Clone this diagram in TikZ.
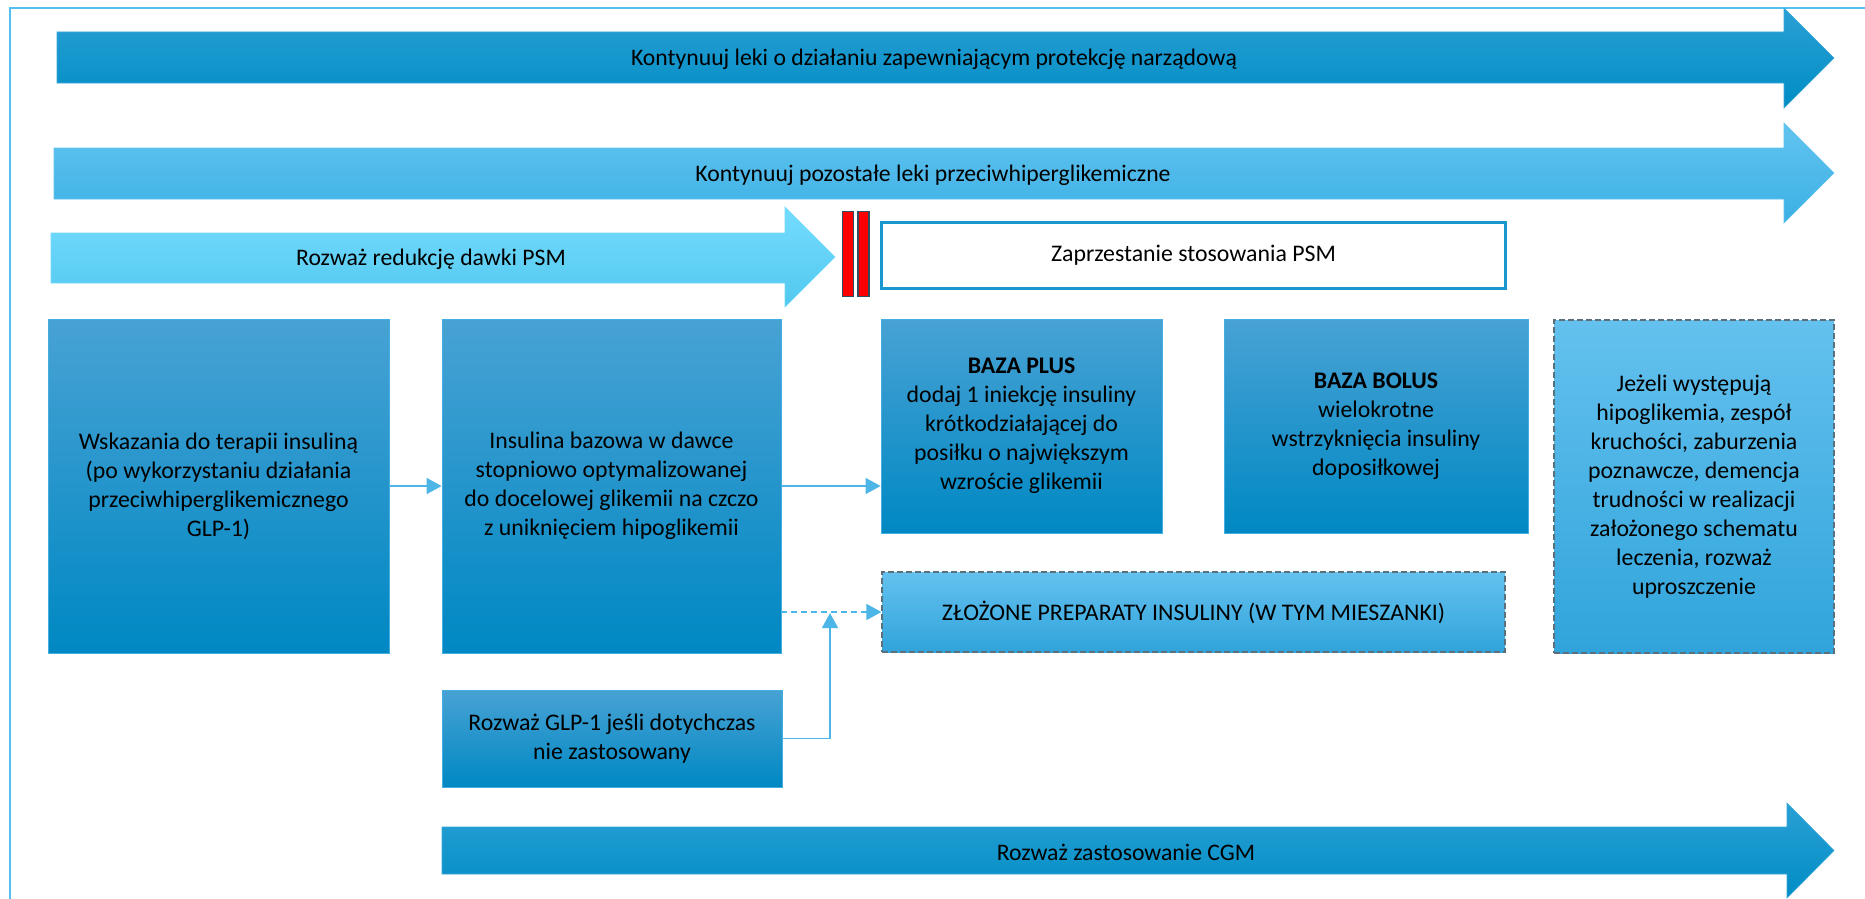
\documentclass[tikz,border=0pt]{standalone}
\usepackage{fontspec}
\setmainfont{Carlito}
\usetikzlibrary{arrows.meta}
\definecolor{framec}{HTML}{55C0F0}
\definecolor{connc}{HTML}{4DB6E6}
\definecolor{dashc}{HTML}{5C707C}
\definecolor{stopc}{HTML}{1898CF}
\definecolor{barc}{HTML}{2E4F5F}
\definecolor{bxT}{HTML}{48A2D4}
\definecolor{bxM}{HTML}{0A97D0}
\definecolor{bxB}{HTML}{0088C3}
\definecolor{bxE}{HTML}{45AEE0}
\definecolor{dbT}{HTML}{64C1EE}
\definecolor{dbM}{HTML}{42B6EE}
\definecolor{dbB}{HTML}{30A4DB}
\definecolor{daT}{HTML}{2AA0D5}
\definecolor{daM}{HTML}{0098CE}
\definecolor{daB}{HTML}{008DC4}
\definecolor{daE}{HTML}{3AA8DA}
\definecolor{maT}{HTML}{62C4F0}
\definecolor{maM}{HTML}{48BCEE}
\definecolor{maB}{HTML}{3BB0E4}
\definecolor{laT}{HTML}{74DCFF}
\definecolor{laM}{HTML}{66D6FF}
\definecolor{laB}{HTML}{52C8EE}
\tikzset{
  x=1pt, y=-1pt,
  boxtxt/.style={font=\fontsize{23.8}{29}\selectfont, align=center, text=black},
  bluebox/.style={boxtxt, rectangle, draw=bxE, line width=0.8pt,
    top color=bxT, middle color=bxM, bottom color=bxB, inner sep=0pt},
  dashbox/.style={boxtxt, rectangle, draw=dashc, line width=1.2pt, dash pattern=on 6pt off 3pt,
    top color=dbT, middle color=dbM, bottom color=dbB, inner sep=0pt},
  stopbox/.style={boxtxt, rectangle, draw=stopc, line width=2.5pt, fill=white, inner sep=0pt},
  redbar/.style={rectangle, fill=red, draw=barc, line width=1.6pt, inner sep=0pt, minimum width=11, minimum height=85},
  conn/.style={draw=connc, line width=1.3pt, -{Triangle[length=15pt,width=16pt]}},
  dconn/.style={conn, dash pattern=on 6pt off 4pt},
  arrtxt/.style={font=\fontsize{23.7}{28}\selectfont, text=black, inner sep=0pt},
  darkarrow/.style={top color=daT, middle color=daM, bottom color=daB, draw=daE, line width=0.6pt},
  midarrow/.style={top color=maT, middle color=maM, bottom color=maB, draw=maT, line width=0.6pt},
  lightarrow/.style={top color=laT, middle color=laM, bottom color=laB, draw=laT, line width=0.6pt},
}
\newcommand\fatarrow[8]{% style, x1, xh, xt, shafttop, shaftbot, headtop, headbot
  \path[#1] (#2,#5) -- (#3,#5) -- (#3,#7) -- (#4,{(#7+#8)/2}) -- (#3,#8) -- (#3,#6) -- (#2,#6) -- cycle;}
\begin{document}
\begin{tikzpicture}
\clip (0,0) rectangle (1865,899);
\path[fill=white] (0,0) rectangle (1865,899);
\draw[framec, line width=2.2pt] (10,8) rectangle (1900,950);

% big arrows
\fatarrow{darkarrow}{57}{1784}{1834}{32}{83}{8}{108}
\node[arrtxt] (t1) at (934,59) {Kontynuuj leki o działaniu zapewniającym protekcję narządową};
\fatarrow{midarrow}{54}{1784}{1834}{148}{199}{123}{223}
\node[arrtxt] (t2) at (933,175) {Kontynuuj pozostałe leki przeciwhiperglikemiczne};
\fatarrow{lightarrow}{51}{785}{835}{233}{283}{207}{307}
\node[arrtxt] (t3) at (431,259) {Rozważ redukcję dawki PSM};
\fatarrow{darkarrow}{442}{1787}{1834}{827}{874}{803}{898}
\node[arrtxt] (t4) at (1126,852) {Rozważ zastosowanie CGM};

% stop bars
\node[redbar] (r1) at (848,254) {};
\node[redbar] (r2) at (863.5,254) {};
\node[stopbox, minimum width=624, minimum height=66] (stop) at (1193.5,255.5) {Zaprzestanie stosowania PSM};

% boxes
\node[bluebox, minimum width=341, minimum height=334] (b1) at (218.5,486)
  {Wskazania do terapii insuliną\\(po wykorzystaniu działania\\przeciwhiperglikemicznego\\GLP-1)};
\node[bluebox, minimum width=339, minimum height=334] (b2) at (611.5,486)
  {Insulina bazowa w dawce\\stopniowo optymalizowanej\\do docelowej glikemii na czczo\\z uniknięciem hipoglikemii};
\node[bluebox, minimum width=281, minimum height=214] (b3) at (1021.5,426)
  {\textbf{BAZA PLUS}\\dodaj 1 iniekcję insuliny\\krótkodziałającej do\\posiłku o największym\\wzroście glikemii};
\node[bluebox, minimum width=304, minimum height=214] (b4) at (1376,426)
  {\textbf{BAZA BOLUS}\\wielokrotne\\wstrzyknięcia insuliny\\doposiłkowej};
\node[dashbox, minimum width=623, minimum height=80] (b5) at (1193.5,612)
  {ZŁOŻONE PREPARATY INSULINY (W TYM MIESZANKI)};
\node[dashbox, minimum width=280, minimum height=333] (b6) at (1694,486.5)
  {Jeżeli występują\\hipoglikemia, zespół\\kruchości, zaburzenia\\poznawcze, demencja\\trudności w realizacji\\założonego schematu\\leczenia, rozważ\\uproszczenie};
\node[bluebox, minimum width=340, minimum height=97] (b7) at (612,738.5)
  {Rozważ GLP-1 jeśli dotychczas\\nie zastosowany};

% connectors
\draw[conn] (b1) -- (b2);
\draw[conn] (b2.east) -- (b2.east -| b3.west);
\draw[dconn] (b2.east |- b5.west) -- (b5.west);
\coordinate (j) at (830,613);
\draw[conn] (b7.east) -| (j);
\end{tikzpicture}
\end{document}
